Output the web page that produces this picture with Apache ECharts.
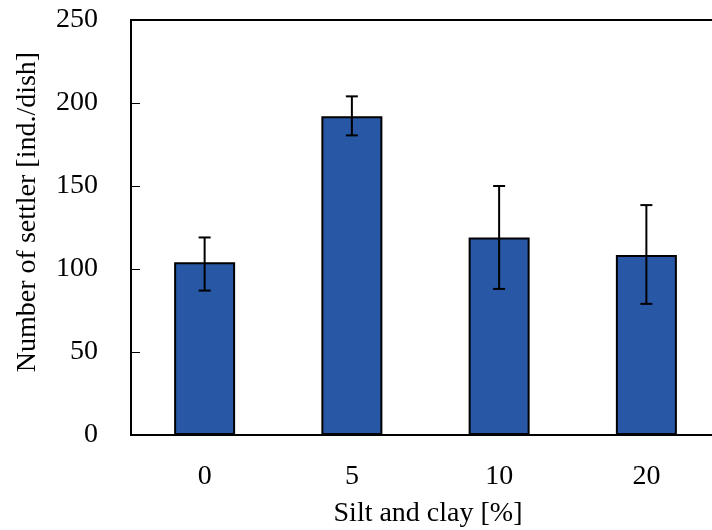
<!DOCTYPE html>
<html>
<head>
<meta charset="utf-8">
<script src="https://cdn.jsdelivr.net/npm/echarts@6/dist/echarts.min.js"></script>
<style>
  html, body { margin: 0; padding: 0; background: #fff; }
  #chart { width: 712px; height: 530px; }
</style>
</head>
<body>
<div id="chart"></div>
<script>
// silt and clay content (%)
const categories = ["0", "5", "10", "20"];
// mean number of settlers (ind./dish)
const settlers = [104, 192, 119, 108.5];
// error bar ends
const errLow = [87, 180.5, 88, 79];
const errHigh = [119, 204, 150, 138.5];
const yTicks = [0, 50, 100, 150, 200, 250];

const font = "'Liberation Serif', 'Times New Roman', serif";

const chart = echarts.init(document.getElementById("chart"));

const errData = categories.map((c, i) => [i, errLow[i], errHigh[i]]);

chart.setOption({
  animation: false,
  grid: {
    left: 131,
    top: 20,
    width: 589,
    height: 415,
    outerBoundsMode: "none",
    show: true,
    borderColor: "#000",
    borderWidth: 2
  },
  xAxis: {
    type: "category",
    data: categories,
    boundaryGap: true,
    axisLine: { lineStyle: { color: "#000", width: 2 } },
    axisTick: { inside: true, length: 6, lineStyle: { color: "#000", width: 1 } },
    axisLabel: { color: "#000", fontFamily: font, fontSize: 28, margin: 28 },
    splitLine: { show: false }
  },
  yAxis: {
    type: "value",
    min: yTicks[0],
    max: yTicks[yTicks.length - 1],
    interval: 50,
    axisLine: { show: true, lineStyle: { color: "#000", width: 2 } },
    axisTick: { show: true, inside: true, length: 9, lineStyle: { color: "#000", width: 1 } },
    axisLabel: { color: "#000", fontFamily: font, fontSize: 28, margin: 33 },
    splitLine: { show: false }
  },
  graphic: [
    {
      type: "text",
      x: 428,
      y: 514,
      style: {
        text: "Silt and clay [%]",
        font: "28px " + font,
        fill: "#000",
        align: "center",
        verticalAlign: "middle"
      }
    },
    {
      type: "text",
      x: 28,
      y: 212,
      rotation: Math.PI / 2,
      style: {
        text: "Number of settler [ind./dish]",
        font: "28px " + font,
        fill: "#000",
        align: "center",
        verticalAlign: "middle"
      }
    }
  ],
  series: [
    {
      type: "bar",
      data: settlers,
      barWidth: 61,
      itemStyle: { color: "#2757a5", borderColor: "#000", borderWidth: 2 }
    },
    {
      type: "custom",
      data: errData,
      z: 10,
      renderItem: function (params, api) {
        const x = api.coord([api.value(0), api.value(1)])[0];
        const lo = api.coord([api.value(0), api.value(1)])[1];
        const hi = api.coord([api.value(0), api.value(2)])[1];
        const w = 6;
        const st = { stroke: "#000", lineWidth: 2 };
        return {
          type: "group",
          children: [
            { type: "line", shape: { x1: x, y1: lo, x2: x, y2: hi }, style: st },
            { type: "line", shape: { x1: x - w, y1: hi, x2: x + w, y2: hi }, style: st },
            { type: "line", shape: { x1: x - w, y1: lo, x2: x + w, y2: lo }, style: st }
          ]
        };
      }
    }
  ]
});
</script>
</body>
</html>
